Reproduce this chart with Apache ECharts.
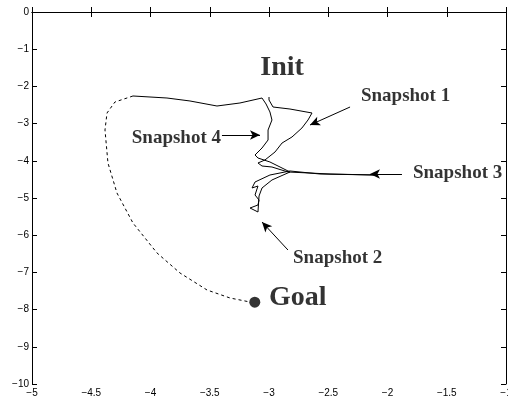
<!DOCTYPE html>
<html><head><meta charset="utf-8">
<script src="https://cdn.jsdelivr.net/npm/echarts@6/dist/echarts.min.js"></script>
<style>html,body{margin:0;padding:0;background:#fff;overflow:hidden}#c{width:508px;height:404px}</style>
</head><body><div id="c"></div>
<script>
// Axis ticks
const xTicks = [-5, -4.5, -4, -3.5, -3, -2.5, -2, -1.5, -1];
const yTicks = [0, -1, -2, -3, -4, -5, -6, -7, -8, -9, -10];

// Solid trajectory (x, y)
const pathX = [-3.000,-3.000,-2.966,-2.823,-2.637,-2.671,-2.722,-2.806,-2.890,-2.949,-3.034,-3.093,-3.059,-2.975,-2.840,-2.485,-2.105,-2.570,-2.823,-2.992,-3.118,-3.143,-3.093,-3.118,-3.084,-3.093,-3.160,-3.093,-3.084,-3.059,-2.975,-2.823,-2.907,-2.992,-3.093,-3.118,-3.059,-3.008,-3.008,-2.975,-2.992,-3.025,-3.059,-3.245,-3.439,-3.667,-3.861,-4.148];
const pathY = [-2.285,-2.366,-2.554,-2.608,-2.715,-2.903,-3.118,-3.360,-3.522,-3.763,-3.978,-4.059,-4.140,-4.167,-4.301,-4.355,-4.382,-4.355,-4.274,-4.382,-4.570,-4.731,-4.677,-4.919,-5.054,-5.188,-5.269,-5.376,-4.946,-4.731,-4.516,-4.301,-4.167,-4.032,-3.925,-3.844,-3.656,-3.441,-3.172,-2.903,-2.688,-2.473,-2.312,-2.446,-2.527,-2.392,-2.312,-2.258];

// Dashed path to goal
const dashX = [-4.148,-4.300,-4.367,-4.384,-4.359,-4.283,-4.148,-3.945,-3.751,-3.523,-3.329,-3.160];
const dashY = [-2.258,-2.419,-2.715,-3.172,-4.059,-4.866,-5.672,-6.478,-7.016,-7.473,-7.688,-7.796];

// Goal point
const goalPoint = [-3.12, -7.80];

// Annotation texts and anchors
const labelNames = ['Init', 'Goal', 'Snapshot 1', 'Snapshot 4', 'Snapshot 3', 'Snapshot 2'];
const labelX = [-2.890, -3.000, -2.224, -3.405, -1.785, -2.797];
const labelY = [-1.505, -7.688, -2.258, -3.387, -4.328, -6.613];

// Arrows: start -> end
const arrowX1 = [-2.316, -3.397, -1.878, -2.840];
const arrowY1 = [-2.554, -3.306, -4.355, -6.398];
const arrowX2 = [-2.654, -3.076, -2.148, -3.059];
const arrowY2 = [-3.038, -3.306, -4.355, -5.645];

const labelStyles = {
  'Init': {fontSize: 28, align: 'center'},
  'Goal': {fontSize: 28, align: 'left'},
  'Snapshot 1': {fontSize: 19, align: 'left'},
  'Snapshot 4': {fontSize: 19, align: 'right'},
  'Snapshot 3': {fontSize: 19, align: 'left'},
  'Snapshot 2': {fontSize: 19, align: 'left'}
};

const zip = (a, b) => a.map((v, i) => [v, b[i]]);
const minus = v => String(v).replace('-', '\u2212');

const labelData = labelNames.map((n, i) => ({
  name: n, value: [labelX[i], labelY[i]],
  label: {show: true, position: 'inside', formatter: n,
    fontFamily: 'Liberation Serif', fontWeight: 'bold', color: '#000',
    textBorderWidth: 0, textBorderColor: 'transparent',
    fontSize: labelStyles[n].fontSize, align: labelStyles[n].align, verticalAlign: 'middle'}
}));

const arrowData = arrowX1.map((v, i) => [{coord: [v, arrowY1[i]]}, {coord: [arrowX2[i], arrowY2[i]]}]);

const axisCommon = {
  axisLine: {show: true, lineStyle: {color: '#000', width: 1}},
  axisTick: {show: true, inside: true, length: 5, lineStyle: {color: '#000'}},
  splitLine: {show: false}
};

const chart = echarts.init(document.getElementById('c'), null, {renderer: 'canvas', width: 508, height: 404});
chart.setOption({
  animation: false,
  backgroundColor: '#fff',
  grid: {left: 32, right: 2, top: 12, bottom: 20, containLabel: false, outerBoundsMode: 'none'},
  xAxis: [
    Object.assign({type: 'value', min: xTicks[0], max: xTicks[xTicks.length - 1], interval: 0.5, position: 'bottom',
      axisLabel: {show: true, color: '#000', fontSize: 10, fontFamily: 'Liberation Sans', margin: 4, formatter: minus}}, axisCommon),
    Object.assign({type: 'value', min: xTicks[0], max: xTicks[xTicks.length - 1], interval: 0.5, position: 'top',
      axisLabel: {show: false}}, axisCommon)
  ],
  yAxis: [
    Object.assign({type: 'value', min: yTicks[yTicks.length - 1], max: yTicks[0], interval: 1, position: 'left',
      axisLabel: {show: true, color: '#000', fontSize: 10, fontFamily: 'Liberation Sans', margin: 3, formatter: minus}}, axisCommon),
    Object.assign({type: 'value', min: yTicks[yTicks.length - 1], max: yTicks[0], interval: 1, position: 'right',
      axisLabel: {show: false}}, axisCommon)
  ],
  series: [
    {type: 'line', data: zip(pathX, pathY), showSymbol: false, symbol: 'none',
      lineStyle: {color: '#000', width: 1}, z: 3,
      markLine: {silent: true, symbol: ['none', 'arrow'], symbolSize: [7, 10], label: {show: false},
        lineStyle: {color: '#000', width: 1, type: 'solid'}, data: arrowData}},
    {type: 'line', data: zip(dashX, dashY), showSymbol: false, symbol: 'none',
      lineStyle: {color: '#000', width: 1, type: [3, 3]}},
    {type: 'scatter', data: [goalPoint], symbol: 'circle', symbolSize: 11, itemStyle: {color: '#000'}},
    {type: 'scatter', data: labelData, symbolSize: 0, itemStyle: {color: 'transparent'}}
  ]
});
</script>
</body></html>
